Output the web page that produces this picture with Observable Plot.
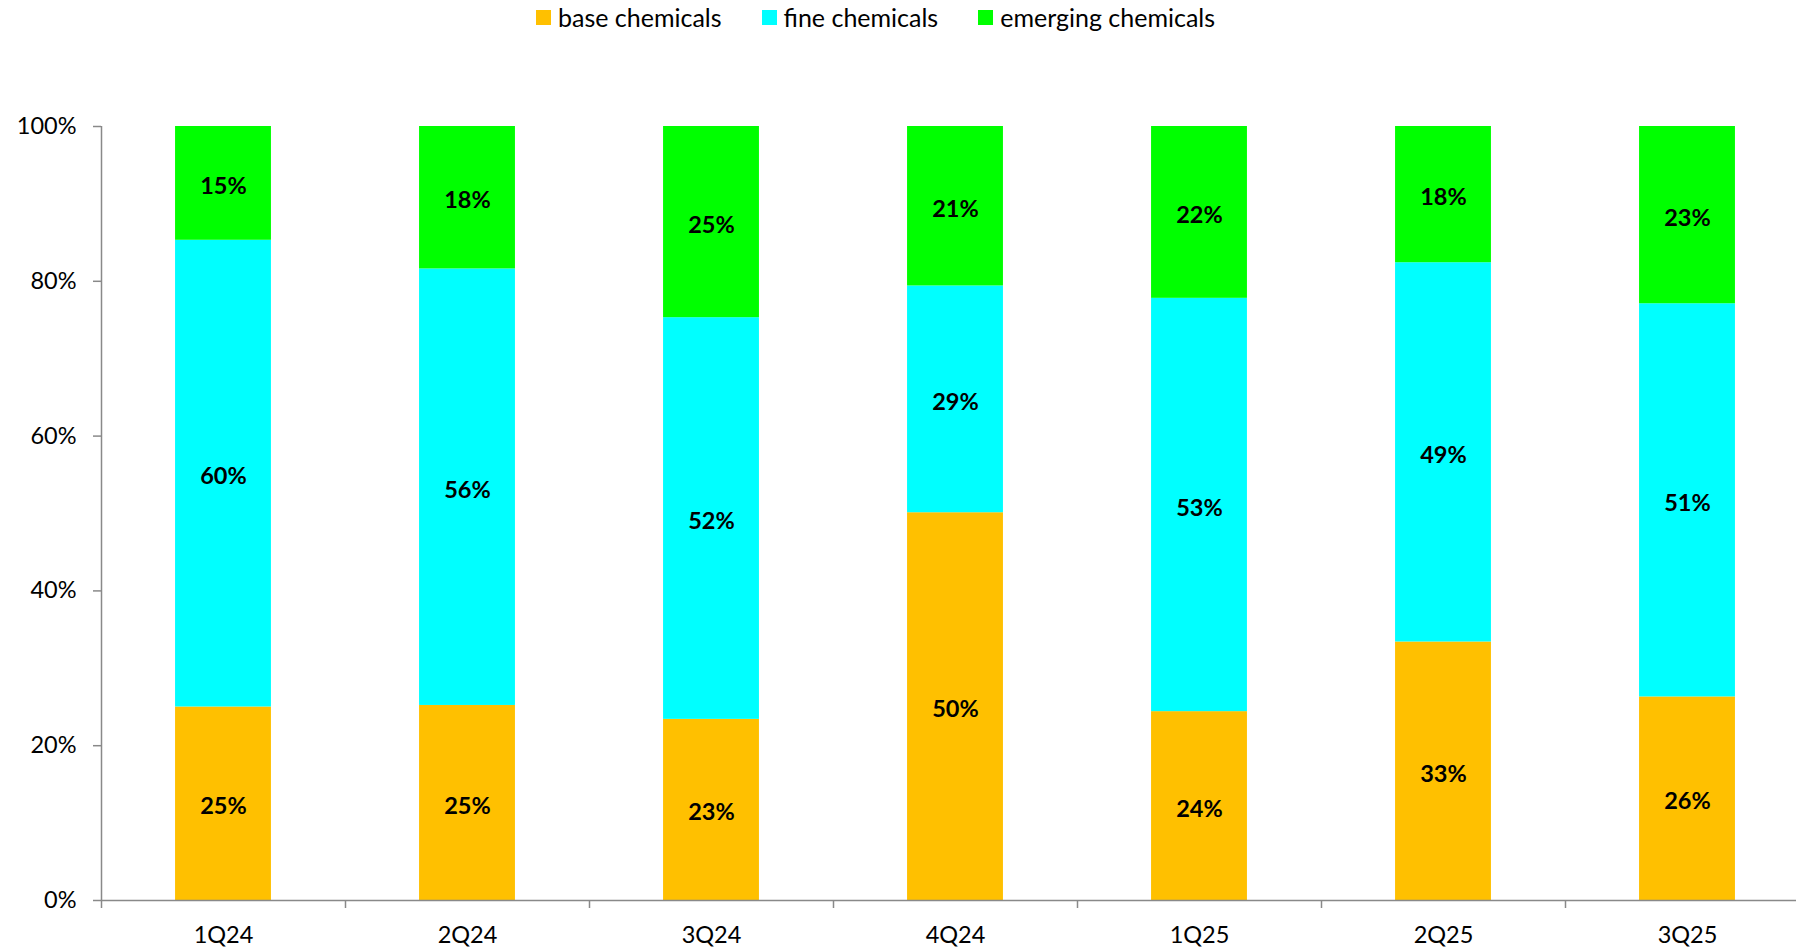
<!DOCTYPE html>
<html>
<head>
<meta charset="utf-8">
<script src="https://cdn.jsdelivr.net/npm/d3@7"></script>
<script src="https://cdn.jsdelivr.net/npm/@observablehq/plot@0.6"></script>
<style>
  html, body { margin: 0; padding: 0; background: #fff; }
  body { font-family: Lato, "Open Sans", sans-serif; width: 1796px; height: 951px; overflow: hidden; }
  #legend { height: 40px; display: flex; align-items: flex-start; padding-left: 536px; gap: 40px; box-sizing: border-box; padding-top: 3px; }
  .item { display: flex; align-items: center; font-size: 25px; color: #000; line-height: 28px; }
  .sw { width: 15px; height: 15px; margin-right: 7px; display: inline-block; }
</style>
</head>
<body>
<div id="legend"></div>
<div id="chart"></div>
<script>
const quarters = ["1Q24", "2Q24", "3Q24", "4Q24", "1Q25", "2Q25", "3Q25"];
const seriesNames = ["base chemicals", "fine chemicals", "emerging chemicals"];
const baseChemicals = [25.0, 25.2, 23.4, 50.1, 24.4, 33.4, 26.3];
const fineChemicals = [60.3, 56.4, 51.9, 29.3, 53.4, 49.0, 50.8];
const emergingChemicals = [14.7, 18.4, 24.7, 20.6, 22.2, 17.6, 22.9];
const seriesColors = ["#FFC000", "#00FFFF", "#00FF00"];
const yTicks = [0, 20, 40, 60, 80, 100];

const seriesValues = [baseChemicals, fineChemicals, emergingChemicals];
const data = [];
quarters.forEach((q, i) => {
  seriesNames.forEach((s, j) => {
    data.push({quarter: q, series: s, value: seriesValues[j][i]});
  });
});

// legend
const legend = document.getElementById("legend");
seriesNames.forEach((s, j) => {
  const it = document.createElement("div");
  it.className = "item";
  const sw = document.createElement("span");
  sw.className = "sw";
  sw.style.background = seriesColors[j];
  it.appendChild(sw);
  it.appendChild(document.createTextNode(s));
  legend.appendChild(it);
});

const W = 1796, H = 911;
const mL = 101, mR = -13;
const step = (W - mL - mR) / quarters.length;
const axisGray = "#898989";

const chart = Plot.plot({
  width: W,
  height: H,
  marginTop: 86,
  marginBottom: 51,
  marginLeft: mL,
  marginRight: mR,
  style: {fontFamily: "Lato, 'Open Sans', sans-serif", background: "#fff", overflow: "visible"},
  x: {domain: quarters, paddingInner: 0.607, paddingOuter: 0.3035, round: false, label: null},
  y: {domain: [0, 100], label: null},
  color: {domain: seriesNames, range: seriesColors},
  marks: [
    Plot.barY(data, {x: "quarter", y: "value", fill: "series"}),
    Plot.text(data, Plot.stackY({x: "quarter", y: "value", z: "series",
      text: d => Math.round(d.value) + "%", fontSize: 23.5, fontWeight: "bold", fill: "#000", dy: 3})),
    Plot.ruleY([0], {stroke: axisGray, strokeWidth: 1.5}),
    Plot.ruleX([quarters[0]], {y1: 0, y2: 100, dx: -step / 2, stroke: axisGray, strokeWidth: 1.5}),
    Plot.axisY({ticks: yTicks, tickFormat: d => d + "%", tickSize: 8, tickPadding: 17,
      fontSize: 23.5, stroke: axisGray, fill: "#000", strokeWidth: 1.5, label: null}),
    Plot.axisX({tickSize: 8, text: null, dx: -step / 2, stroke: axisGray, strokeWidth: 1.5, label: null}),
    Plot.axisX({tickSize: 0, tickPadding: 26, fontSize: 23.5, fill: "#000", label: null})
  ]
});
document.getElementById("chart").appendChild(chart);
</script>
</body>
</html>
